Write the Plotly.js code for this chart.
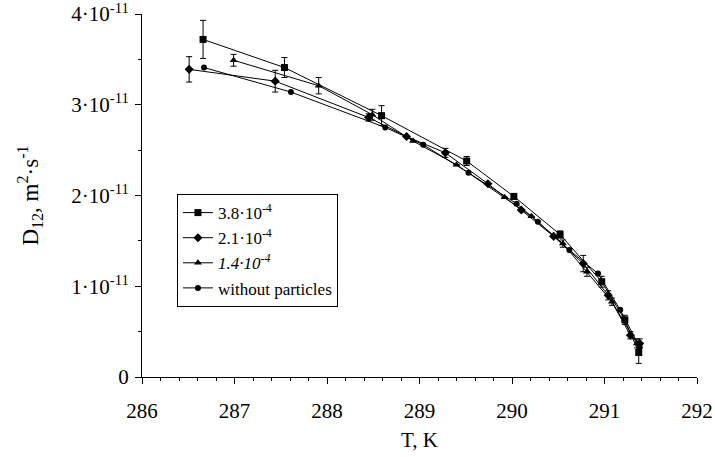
<!DOCTYPE html>
<html>
<head>
<meta charset="utf-8">
<script src="https://cdn.plot.ly/plotly-3.0.1.min.js"></script>
<style>
  html, body { margin: 0; padding: 0; background: #fff; }
  #chart { width: 715px; height: 457px; }
</style>
</head>
<body>
<div id="chart"></div>
<script>
// Interdiffusion coefficient D12 (in units of 1e-11 m^2/s) versus temperature T (K)
const SCALE = 1e-11;

// particle volume fraction 3.8e-4
const T_38 = [286.66, 287.54, 288.59, 289.51, 290.02, 290.52, 290.97, 291.22, 291.37];
const D_38 = [3.72, 3.41, 2.88, 2.38, 1.99, 1.57, 1.05, 0.63, 0.27];
const E_38 = [0.21, 0.11, 0.11, 0.05, 0.03, 0.04, 0.06, 0.05, 0.12];

// particle volume fraction 2.1e-4
const T_21 = [286.51, 287.44, 288.45, 288.86, 289.28, 289.74, 290.10, 290.45, 290.77, 291.04, 291.28, 291.38];
const D_21 = [3.39, 3.26, 2.86, 2.65, 2.47, 2.13, 1.84, 1.55, 1.25, 0.90, 0.46, 0.37];
const E_21 = [0.14, 0.12, 0.04, 0, 0.05, 0, 0, 0, 0.09, 0.05, 0.04, 0.05];

// particle volume fraction 1.4e-4
const T_14 = [286.99, 287.91, 288.49, 288.93, 289.40, 289.92, 290.21, 290.55, 290.81, 291.08, 291.35];
const D_14 = [3.49, 3.21, 2.89, 2.60, 2.34, 1.98, 1.77, 1.47, 1.16, 0.83, 0.37];
const E_14 = [0.065, 0.09, 0.06, 0, 0, 0, 0, 0.04, 0.05, 0.04, 0.05];

// pure mixture, no particles
const T_0 = [286.67, 287.61, 288.63, 289.04, 289.53, 290.05, 290.28, 290.62, 290.93, 291.17, 291.38];
const D_0 = [3.41, 3.14, 2.75, 2.56, 2.25, 1.91, 1.71, 1.40, 1.14, 0.74, 0.33];

const X_TICKS = [286, 287, 288, 289, 290, 291, 292];
const Y_TICKS = [0, 1, 2, 3, 4];
const Y_TICK_TEXT = ['0', '1·10<sup>-11</sup>', '2·10<sup>-11</sup>', '3·10<sup>-11</sup>', '4·10<sup>-11</sup>'];

const SERIES_NAMES = ['3.8·10<sup>-4</sup>', '2.1·10<sup>-4</sup>', '<i>1.4·10<sup>-4</sup></i>', 'without particles'];

const FONT = 'Liberation Serif, Times New Roman, serif';
const scaled = a => a.map(v => v * SCALE);

function series(name, T, D, E, symbol, size) {
  const tr = {
    type: 'scatter',
    mode: 'lines+markers',
    name: name,
    x: T,
    y: scaled(D),
    line: { color: '#000', width: 1 },
    marker: { color: '#000', symbol: symbol, size: size },
    cliponaxis: false
  };
  if (E) {
    tr.error_y = { type: 'data', array: scaled(E), visible: true, color: '#000', thickness: 1, width: 3 };
  }
  return tr;
}

const data = [
  series(SERIES_NAMES[0], T_38, D_38, E_38, 'square', 7),
  series(SERIES_NAMES[1], T_21, D_21, E_21, 'diamond', 7),
  series(SERIES_NAMES[2], T_14, D_14, E_14, 'triangle-up', 7),
  series(SERIES_NAMES[3], T_0, D_0, null, 'circle', 6)
];

const layout = {
  width: 715,
  height: 457,
  margin: { l: 142, r: 18, t: 14, b: 80 },
  paper_bgcolor: '#fff',
  plot_bgcolor: '#fff',
  font: { family: FONT, color: '#000', size: 20 },
  showlegend: true,
  legend: {
    x: 0.063, y: 0.504, xanchor: 'left', yanchor: 'top',
    bgcolor: '#fff', bordercolor: '#000', borderwidth: 1,
    font: { family: FONT, size: 17, color: '#000' },
    tracegroupgap: 0
  },
  xaxis: {
    range: [286, 292],
    tickvals: X_TICKS,
    ticktext: X_TICKS.map(String),
    showgrid: false, zeroline: false,
    showline: true, linecolor: '#000', linewidth: 1,
    ticks: 'outside', ticklen: 6, tickcolor: '#000', tickwidth: 1,
    ticklabelstandoff: 9,
    ticklabeloverflow: 'allow',
    minor: { dtick: 0.2, ticks: 'outside', ticklen: 3, tickcolor: '#000', showgrid: false },
    tickfont: { family: FONT, size: 21 },
    title: { text: 'T, K', font: { family: FONT, size: 21 }, standoff: 10 }
  },
  yaxis: {
    range: [0, 4 * SCALE],
    tickvals: scaled(Y_TICKS),
    ticktext: Y_TICK_TEXT,
    showgrid: false, zeroline: false,
    showline: true, linecolor: '#000', linewidth: 1,
    ticks: 'outside', ticklen: 6, tickcolor: '#000', tickwidth: 1,
    ticklabelstandoff: 2,
    ticklabeloverflow: 'allow',
    minor: { dtick: 0.5 * SCALE, ticks: 'outside', ticklen: 3, tickcolor: '#000', showgrid: false },
    tickfont: { family: FONT, size: 21 },
    title: { text: 'D<sub>12</sub>, m<sup>2</sup>·s<sup>-1</sup>', font: { family: FONT, size: 23 }, standoff: 26 }
  }
};

Plotly.newPlot('chart', data, layout, { staticPlot: true, displayModeBar: false });
</script>
</body>
</html>
